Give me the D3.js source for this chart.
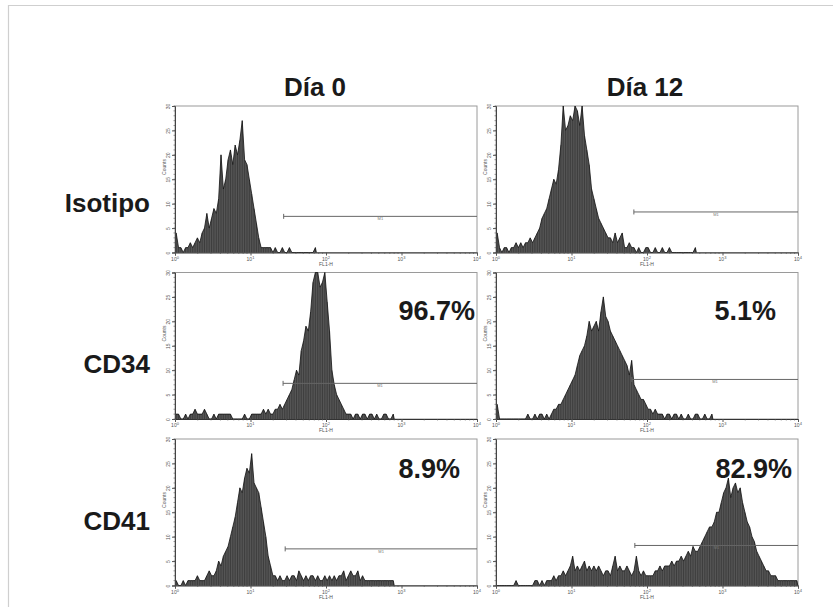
<!DOCTYPE html>
<html>
<head>
<meta charset="utf-8">
<script src="https://cdn.jsdelivr.net/npm/d3@7"></script>
<style>
  html, body { margin: 0; padding: 0; background: #fff; }
  svg { display: block; }
  text { font-family: "Liberation Sans", Arial, Helvetica, sans-serif; }
</style>
</head>
<body>
<svg id="chart" width="833" height="607"></svg>
<script>
// Row markers and time points
const markers = ["Isotipo", "CD34", "CD41"];
const days = ["Día 0", "Día 12"];
const percentLabels = ["", "", "96.7%", "5.1%", "8.9%", "82.9%"];

// Axis ticks
const yTicks = [0, 5, 10, 15, 20, 25, 30];
const xDecades = [1, 10, 100, 1000, 10000];
const xExponents = ["0", "1", "2", "3", "4"];
const binsPerDecade = 32;

// Histogram counts per FL1-H channel bin (32 bins per decade, starting at 10^0)
const isotypeDay0 = [4,1,1,0,1,1,2,1,2,3,2,4,5,8,5,7,9,8,11,20,13,15,19,21,18,22,20,23,27,19,
  18,15,12,9,6,3,1,1,1,1,1,0,1,0,0,1,0,0,1,0,0,0,0,0,0,0,0,0,0,1];
const isotypeDay12 = [4,1,0,1,1,0,1,1,2,1,2,1,2,2,3,2,3,4,5,7,8,9,11,13,15,14,17,22,30,25,
  26,28,27,30,29,26,30,24,21,18,13,11,9,7,6,5,4,3,3,2,4,2,3,4,1,1,2,1,1,0,
  1,0,0,1,1,0,0,1,0,0,1,0,0,1,0,0,0,0,0,0,0,0,0,0,1];
const cd34Day0 = [1,1,0,0,1,0,1,1,2,1,1,1,2,1,0,0,1,0,1,1,1,1,1,1,0,0,0,0,0,1,
  0,0,1,1,1,1,1,2,1,2,1,1,2,2,3,2,3,4,5,6,8,10,9,14,16,19,18,22,28,30,
  30,27,28,30,24,18,10,7,5,4,3,2,1,1,1,0,1,1,0,1,1,0,1,1,0,1,0,0,1,1,
  0,0,1];
const cd34Day12 = [3,0,0,0,0,0,0,0,0,0,0,0,0,1,0,0,1,0,1,1,0,1,0,1,2,2,3,3,4,5,
  6,7,8,9,11,13,14,15,17,20,18,19,20,18,22,25,21,20,18,17,16,15,14,13,12,11,9,12,7,6,
  5,4,4,3,2,2,1,2,1,1,1,0,1,1,0,1,1,0,1,0,0,1,0,0,1,1,0,0,1,0,
  0,1];
const cd41Day0 = [1,0,0,1,0,1,1,1,1,2,1,1,1,2,3,2,2,3,5,4,6,7,8,10,12,14,17,20,19,22,
  24,23,27,21,20,19,16,13,10,6,4,2,2,1,2,1,1,2,1,2,2,1,3,2,1,2,1,2,2,1,
  2,1,1,2,1,2,1,2,1,2,2,3,1,2,3,2,2,3,1,2,1,1,1,1,1,1,1,1,1,1,
  1,1,1];
const cd41Day12 = [0,0,0,0,0,0,0,0,1,0,0,0,0,0,0,0,1,1,0,1,0,1,1,1,2,1,2,2,3,2,
  3,4,6,3,4,3,4,5,3,4,3,4,3,4,3,2,3,3,2,4,6,3,4,3,3,4,3,2,3,6,
  3,2,3,2,2,2,2,3,3,4,3,4,4,4,5,4,5,5,6,5,6,7,6,8,7,7,8,9,10,11,
  12,12,13,15,15,17,19,20,22,18,20,21,19,20,17,15,13,12,10,9,7,6,5,4,3,3,2,2,2,1,
  1,1,1,1,1,1,1,1];
const histograms = [isotypeDay0, isotypeDay12, cd34Day0, cd34Day12, cd41Day0, cd41Day12];

// M1 gate: start on FL1-H and height in counts
const gateStart = [27.5, 67, 27, 63, 28.8, 69];
const gateLevel = [7.4, 8.3, 7.3, 8.1, 7.5, 8.2];

const svg = d3.select("#chart");

// light frame lines along top and left
svg.append("line").attr("x1", 8).attr("x2", 833).attr("y1", 5.5).attr("y2", 5.5)
  .attr("stroke", "#cfcfcf").attr("stroke-width", 1.2);
svg.append("line").attr("x1", 8.5).attr("x2", 8.5).attr("y1", 5).attr("y2", 607)
  .attr("stroke", "#cfcfcf").attr("stroke-width", 1.2);

const colLeft = [175, 496];
const rowTop = [106, 272.5, 439];
const panelW = 302, panelH = 146.5;

// placement of the percentage text inside each panel (right edge inset, baseline)
const pctInset = [0, 0, 2, 22, 17, 6];
const pctBaseline = [0, 0, 47, 47, 39, 39];

// column headings
const titleX = [315, 645];
days.forEach((d, j) => {
  svg.append("text").attr("x", titleX[j]).attr("y", 96)
    .attr("text-anchor", "middle").attr("font-size", 26).attr("font-weight", "bold")
    .attr("fill", "#1a1a1a").text(d);
});

// row headings
const rowBaseline = [212, 373, 530];
markers.forEach((m, r) => {
  svg.append("text").attr("x", 150).attr("y", rowBaseline[r])
    .attr("text-anchor", "end").attr("font-size", 26).attr("font-weight", "bold")
    .attr("fill", "#1a1a1a").text(m);
});

const tickFont = 5;
const tickColor = "#555";

histograms.forEach((counts, k) => {
  const r = Math.floor(k / 2), c = k % 2;
  const x0 = colLeft[c], y0 = rowTop[r];
  const g = svg.append("g").attr("transform", `translate(${x0},${y0})`);

  const x = d3.scaleLog().domain([1, 10000]).range([0, panelW]);
  const y = d3.scaleLinear().domain([0, 30]).range([panelH, 0]).clamp(true);

  // frame
  g.append("rect").attr("x", 0).attr("y", 0).attr("width", panelW).attr("height", panelH)
    .attr("fill", "none").attr("stroke", "#9a9a9a").attr("stroke-width", 1);

  // histogram through bin centres
  const cx = i => x(Math.pow(10, (i + 0.5) / binsPerDecade));
  const pts = counts.map((v, i) => [cx(i), y(v)]);
  pts.unshift([x(1), y(counts[0])]);
  pts.push([pts[pts.length - 1][0] + 1, y(0)]);
  const area = d3.area().x(d => d[0]).y0(panelH).y1(d => d[1]);
  const line = d3.line().x(d => d[0]).y(d => d[1]);
  g.append("path").attr("d", area(pts)).attr("fill", "#555");
  // one dark channel line per bin
  g.append("g").selectAll("line").data(counts).join("line")
    .attr("x1", (v, i) => cx(i)).attr("x2", (v, i) => cx(i))
    .attr("y1", panelH).attr("y2", v => y(v))
    .attr("stroke", "#262626").attr("stroke-width", 0.5);
  g.append("path").attr("d", line(pts)).attr("fill", "none")
    .attr("stroke", "#111").attr("stroke-width", 0.8).attr("stroke-linejoin", "miter");

  // y axis
  const yAxis = d3.axisLeft(y).tickValues(yTicks).tickSize(3).tickFormat(d3.format("d"));
  const ya = g.append("g").call(yAxis);
  ya.select(".domain").attr("stroke", "#444");
  ya.selectAll(".tick line").attr("stroke", tickColor);
  ya.selectAll(".tick text").attr("font-size", tickFont).attr("fill", tickColor)
    .attr("text-anchor", "middle").attr("x", 0).attr("y", 0).attr("dy", 0)
    .attr("transform", "translate(-5,0) rotate(-90)");
  // minor y ticks
  g.append("g").selectAll("line").data(d3.range(0, 31)).join("line")
    .attr("x1", -1.5).attr("x2", 0).attr("y1", d => y(d)).attr("y2", d => y(d))
    .attr("stroke", tickColor).attr("stroke-width", 0.6);
  g.append("text").attr("transform", `translate(-9,${y(17.5)}) rotate(-90)`)
    .attr("text-anchor", "middle").attr("font-size", tickFont).attr("fill", tickColor)
    .text("Counts");

  // x axis
  const xa = g.append("g").attr("transform", `translate(0,${panelH})`)
    .call(d3.axisBottom(x).tickValues(xDecades).tickSize(3).tickFormat(() => ""));
  xa.select(".domain").attr("stroke", "#333");
  xa.selectAll(".tick line").attr("stroke", tickColor);
  const minor = [];
  xDecades.slice(0, 4).forEach(dv => { for (let m = 2; m < 10; m++) minor.push(dv * m); });
  g.append("g").selectAll("line").data(minor).join("line")
    .attr("x1", d => x(d)).attr("x2", d => x(d))
    .attr("y1", panelH).attr("y2", panelH + 1.5)
    .attr("stroke", tickColor).attr("stroke-width", 0.6);
  const lbl = g.append("g").selectAll("text").data(xDecades).join("text")
    .attr("x", d => x(d)).attr("y", panelH + 8)
    .attr("text-anchor", "middle").attr("font-size", tickFont).attr("fill", tickColor);
  lbl.append("tspan").text("10");
  lbl.append("tspan").attr("dy", -2).attr("font-size", 4).text((d, i) => xExponents[i]);
  g.append("text").attr("x", x(100)).attr("y", panelH + 13)
    .attr("text-anchor", "middle").attr("font-size", tickFont).attr("fill", tickColor)
    .text("FL1-H");

  // M1 gate marker
  const gx1 = x(gateStart[k]), gx2 = x(10000), gy = y(gateLevel[k]);
  g.append("line").attr("x1", gx1).attr("x2", gx2).attr("y1", gy).attr("y2", gy)
    .attr("stroke", "#666").attr("stroke-width", 1);
  g.append("line").attr("x1", gx1).attr("x2", gx1).attr("y1", gy - 2.5).attr("y2", gy + 2.5)
    .attr("stroke", "#666").attr("stroke-width", 1);
  g.append("text").attr("x", (gx1 + gx2) / 2).attr("y", gy + 4)
    .attr("text-anchor", "middle").attr("font-size", 4).attr("fill", "#777").text("M1");

  // percentage in M1
  if (percentLabels[k]) {
    g.append("text").attr("x", panelW - pctInset[k]).attr("y", pctBaseline[k])
      .attr("text-anchor", "end").attr("font-size", 27).attr("font-weight", "bold")
      .attr("fill", "#1a1a1a").text(percentLabels[k]);
  }
});
</script>
</body>
</html>
